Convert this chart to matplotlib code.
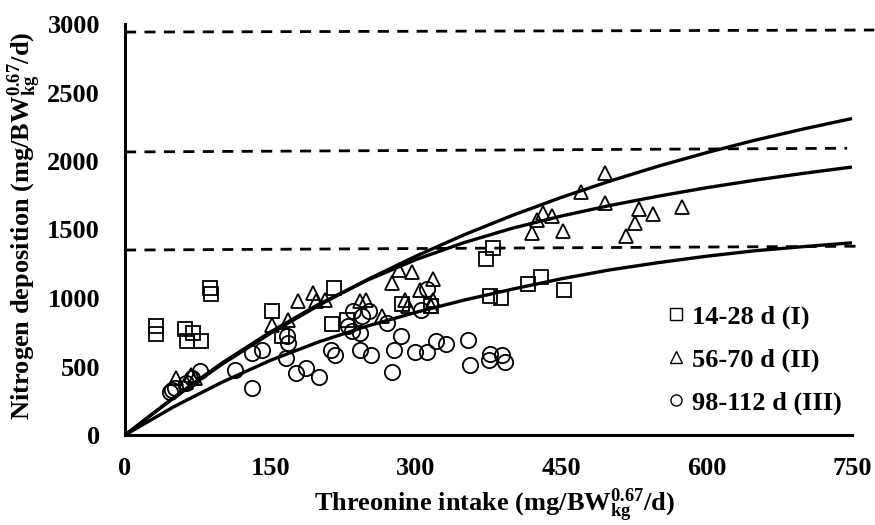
import matplotlib
matplotlib.use("Agg")
import matplotlib.pyplot as plt
from matplotlib.lines import Line2D

# ---------------- data ----------------
# 14-28 d (I)  -- squares
sq_x = [32, 32, 88, 89, 62, 70, 64, 78, 152, 216, 214, 162, 229, 286, 316,
        372, 380, 377, 388, 416, 429, 453]
sq_y = [792, 737, 1073, 1032, 773, 744, 683, 683, 907, 1073, 812, 724, 841,
        958, 940, 1286, 1366, 1013, 1002, 1105, 1154, 1056]

# 56-70 d (II) -- triangles
tri_x = [53, 68, 72, 63, 152, 168, 178, 194, 197, 206, 242, 249, 265, 275,
         283, 296, 318, 304, 289, 292, 318, 316, 495, 470, 495, 431, 440,
         425, 420, 452, 530, 545, 526, 517, 575]
tri_y = [415, 439, 415, 390, 805, 841, 975, 1037, 975, 988, 975, 988, 866,
         1110, 1207, 1188, 1139, 1061, 988, 944, 988, 944, 1910, 1773, 1695,
         1622, 1602, 1568, 1476, 1488, 1646, 1610, 1544, 1456, 1666]

# 98-112 d (III) -- circles
cir_x = [46, 49, 52, 63, 69, 77, 113, 131, 131, 141, 167, 168, 166, 176, 187,
         200, 213, 217, 230, 234, 235, 244, 252, 242, 242, 254, 270, 275, 278,
         285, 299, 312, 305, 312, 321, 331, 354, 356, 377, 389, 375, 392]
cir_y = [317, 329, 342, 378, 417, 468, 476, 344, 600, 622, 724, 673, 563,
         450, 490, 424, 622, 585, 792, 756, 902, 866, 902, 744, 622, 585, 817,
         463, 622, 719, 609, 609, 915, 1066, 683, 666, 690, 512, 593, 585,
         549, 536]

# fitted response curves
curve_x = [0, 50, 100, 150, 200, 250, 300, 350, 400, 450, 500, 550, 600, 650,
           700, 750]
curve_top = [0, 270, 516, 742, 947, 1134, 1305, 1462, 1604, 1734, 1853, 1962,
             2061, 2152, 2234, 2310]
curve_mid = [0, 272, 525, 752, 955, 1130, 1280, 1405, 1510, 1598, 1675, 1743,
             1805, 1860, 1910, 1956]
curve_low = [0, 205, 385, 545, 680, 795, 895, 985, 1065, 1140, 1205, 1258,
             1305, 1345, 1375, 1403]

# dashed plateau lines: (x start, x end), (y start, y end)
dash_x = [(0, 773), (0, 745), (0, 759)]
dash_y = [(2941, 2956), (2066, 2093), (1350, 1378)]

x_ticks = [0, 150, 300, 450, 600, 750]
y_ticks = [0, 500, 1000, 1500, 2000, 2500, 3000]
legend_labels = ["14-28 d (I)", "56-70 d (II)", "98-112 d (III)"]

# ---------------- style ----------------
plt.rcParams['font.family'] = ['Liberation Serif', 'DejaVu Serif']
plt.rcParams['font.weight'] = 'bold'
plt.rcParams['mathtext.fontset'] = 'custom'
plt.rcParams['mathtext.rm'] = 'Liberation Serif:bold'
plt.rcParams['mathtext.bf'] = 'Liberation Serif:bold'
plt.rcParams['mathtext.it'] = 'Liberation Serif:bold'

FS = 19

fig = plt.figure(figsize=(8.75, 5.25), dpi=100)
ax = fig.add_axes([125 / 875, 90 / 525, 727 / 875, 411 / 525])

# dashed lines
for (x0, x1), (y0, y1) in zip(dash_x, dash_y):
    ax.plot([x0, x1], [y0, y1], color='black', lw=2.0, ls=(0, (4, 3)),
            clip_on=False, zorder=1)

# curves
for cy in (curve_top, curve_mid, curve_low):
    ax.plot(curve_x, cy, color='black', lw=2.4, solid_capstyle='butt',
            zorder=2, clip_on=False)

mk = dict(ls='none', mfc='none', mec='black', mew=1.3, zorder=3)
ax.plot(sq_x, sq_y, marker='s', ms=9.5, **mk)
ax.plot(tri_x, tri_y, marker='^', ms=10.5, **mk)
ax.plot(cir_x, cir_y, marker='o', ms=11, **mk)

ax.set_xlim(0, 750)
ax.set_ylim(0, 3000)
ax.set_xticks(x_ticks)
ax.set_yticks(y_ticks)
ax.set_xticklabels([str(v) for v in x_ticks], fontsize=FS, fontweight='bold')
ax.set_yticklabels([str(v) for v in y_ticks], fontsize=FS, fontweight='bold')
ax.tick_params(axis='both', length=0)
ax.tick_params(axis='x', pad=16)
ax.tick_params(axis='y', pad=18)

for s in ('top', 'right'):
    ax.spines[s].set_visible(False)
for s in ('left', 'bottom'):
    ax.spines[s].set_linewidth(2.2)

# axis labels
fig.text(494 / 875, 13 / 525,
         r'Threonine intake (mg/BW$_{\mathbf{kg}}^{\mathbf{0.67}}$/d)',
         ha='center', va='baseline', fontsize=FS, fontweight='bold')
fig.text(25 / 875, 1 - 226 / 525,
         r'Nitrogen deposition (mg/BW$_{\mathbf{kg}}^{\mathbf{0.67}}$/d)',
         ha='center', va='center', rotation=90, fontsize=FS,
         fontweight='bold')

# legend
lmk = dict(ls='none', mfc='none', mec='black', mew=1.0)
handles = [Line2D([], [], marker='s', ms=8, **lmk),
           Line2D([], [], marker='^', ms=8, **lmk),
           Line2D([], [], marker='o', ms=8, **lmk)]
ax.legend(handles, legend_labels, loc='upper left',
          bbox_to_anchor=(668 / 875, 1 - 305 / 525),
          bbox_transform=fig.transFigure, frameon=False,
          handlelength=0.6, handletextpad=0.3, labelspacing=0.72,
          borderpad=0, borderaxespad=0, prop={'weight': 'bold', 'size': FS})

fig.savefig('out.png', dpi=100)
